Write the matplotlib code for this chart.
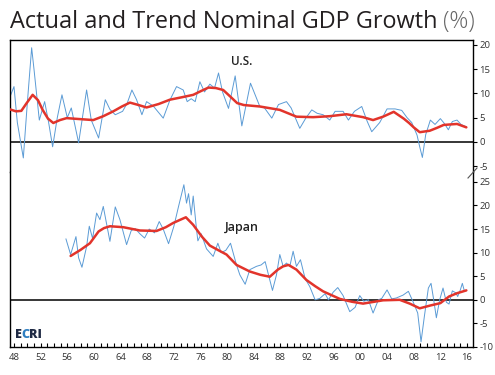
import matplotlib
matplotlib.use("Agg")
import matplotlib.pyplot as plt
from matplotlib.lines import Line2D
from matplotlib.ticker import MultipleLocator, FixedLocator, FuncFormatter

plt.rcParams['font.family'] = ['Open Sans', 'DejaVu Sans']
plt.rcParams['axes.unicode_minus'] = False

# U.S. nominal GDP growth (%)
us_year = [1947.4, 1948.0, 1948.5, 1949.4, 1950.0, 1950.65, 1951.0, 1951.8, 1952.6, 1953.2,
           1953.8, 1954.5, 1955.2, 1956.0, 1956.6, 1957.7, 1958.9, 1959.6, 1960.7, 1961.7,
           1962.4, 1963.2, 1964.3, 1965.0, 1965.7, 1966.4, 1967.2, 1967.9, 1968.9, 1970.4,
           1971.4, 1972.4, 1973.4, 1974.0, 1974.6, 1975.2, 1975.9, 1976.6, 1977.4, 1978.1,
           1978.7, 1979.3, 1980.2, 1981.2, 1982.2, 1983.5, 1984.9, 1985.6, 1986.7, 1987.7,
           1988.9, 1989.6, 1990.9, 1991.8, 1992.7, 1993.5, 1994.4, 1995.4, 1996.2, 1997.4,
           1998.2, 1999.1, 2000.2, 2001.0, 2001.7, 2002.9, 2004.0, 2005.2, 2006.2, 2007.0,
           2007.7, 2008.5, 2008.9, 2009.3, 2009.8, 2010.5, 2011.2, 2012.0, 2012.6, 2013.2,
           2013.8, 2014.5, 2015.1, 2015.9]
us_actual = [9.3, 11.4, 4.0, -3.3, 8.0, 19.4, 15.0, 4.5, 8.3, 4.0,
             -1.0, 5.0, 9.7, 5.0, 7.0, -0.2, 10.7, 4.5, 0.8, 8.7,
             6.7, 5.6, 6.3, 8.0, 10.7, 8.7, 5.6, 8.3, 7.4, 4.9,
             8.6, 11.4, 10.7, 8.3, 8.9, 8.3, 12.4, 10.3, 11.9, 11.1,
             14.2, 10.3, 6.9, 13.6, 3.3, 12.1, 7.3, 7.0, 4.9, 7.7,
             8.3, 7.0, 2.8, 4.9, 6.6, 5.9, 5.6, 4.5, 6.3, 6.3,
             4.5, 6.3, 7.3, 4.3, 2.1, 4.0, 6.8, 6.8, 6.5, 5.0,
             4.0, 1.4, -1.0, -3.2, 1.5, 4.5, 3.6, 4.8, 3.8, 2.5,
             4.2, 4.5, 3.6, 3.1]

us_trend_year = [1947.4, 1948.3, 1949.1, 1949.9, 1950.8, 1951.6, 1952.3, 1953.1, 1953.9, 1954.9,
                 1955.9, 1957.9, 1959.9, 1961.4, 1962.9, 1964.2, 1965.4, 1966.7, 1967.9, 1969.7,
                 1971.4, 1973.2, 1974.9, 1976.1, 1977.2, 1978.3, 1979.4, 1980.5, 1981.5, 1982.5,
                 1984.9, 1987.9, 1990.4, 1992.9, 1995.4, 1997.9, 2000.4, 2001.9, 2003.4, 2005.0,
                 2006.5, 2007.3, 2008.0, 2008.9, 2010.4, 2011.5, 2012.5, 2014.5, 2015.9]
us_trend = [6.7, 6.3, 6.4, 8.0, 9.7, 8.6, 6.6, 4.8, 3.9, 4.5,
            4.9, 4.7, 4.5, 5.3, 6.3, 7.3, 8.1, 7.6, 7.1, 7.8,
            8.7, 9.2, 9.7, 10.5, 11.2, 11.1, 10.7, 9.3, 8.0, 7.6,
            7.3, 6.6, 5.2, 5.1, 5.3, 5.7, 5.1, 4.5, 5.2, 6.2,
            4.8, 3.9, 3.0, 2.0, 2.3, 2.9, 3.5, 3.7, 3.0]

# Japan nominal GDP growth (%)
jp_year = [1955.8, 1956.5, 1957.3, 1957.7, 1958.2, 1958.9, 1959.3, 1959.8, 1960.4, 1960.9,
           1961.4, 1962.4, 1963.2, 1963.9, 1964.9, 1965.6, 1966.2, 1966.9, 1967.6, 1968.3,
           1969.1, 1969.8, 1970.4, 1971.2, 1972.0, 1972.7, 1973.5, 1973.9, 1974.2, 1974.6,
           1974.9, 1975.4, 1975.6, 1976.1, 1976.9, 1977.9, 1978.6, 1979.1, 1979.8, 1980.5,
           1981.4, 1981.9, 1982.7, 1983.4, 1984.4, 1985.1, 1985.7, 1986.2, 1986.8, 1987.4,
           1987.9, 1988.4, 1988.9, 1989.4, 1989.9, 1990.4, 1991.0, 1991.7, 1992.4, 1993.2,
           1993.9, 1994.7, 1995.2, 1995.9, 1996.6, 1997.4, 1998.4, 1999.2, 1999.9, 2000.5,
           2001.2, 2001.9, 2002.7, 2003.2, 2004.0, 2004.7, 2005.4, 2006.4, 2007.2, 2007.9,
           2008.6, 2009.1, 2009.6, 2010.2, 2010.6, 2011.0, 2011.4, 2011.9, 2012.4, 2012.9,
           2013.3, 2013.8, 2014.3, 2014.6, 2015.0, 2015.3, 2015.6]
jp_actual = [12.9, 9.6, 13.4, 8.9, 6.9, 11.3, 15.6, 13.0, 18.4, 17.0,
             19.8, 12.4, 19.7, 17.0, 11.7, 14.7, 15.1, 14.0, 13.1, 15.0,
             14.2, 16.6, 15.0, 11.9, 15.6, 19.8, 24.4, 20.5, 22.5, 18.0,
             22.0, 14.9, 12.5, 14.0, 10.8, 9.2, 12.0, 10.0, 10.5, 12.0,
             7.4, 5.3, 3.3, 6.4, 7.1, 7.4, 8.1, 5.3, 2.0, 5.3,
             9.6, 7.1, 7.8, 7.1, 10.3, 7.1, 8.5, 4.5, 2.8, 0.0,
             0.3, 1.3, 0.0, 1.6, 2.6, 0.9, -2.5, -1.6, 0.9, -0.3,
             0.0, -2.8, 0.0, 0.3, 2.1, 0.2, 0.4, 1.0, 1.8, -0.4,
             -2.8, -8.9, -3.5, 2.5, 3.5, 0.0, -3.8, 0.0, 2.5, -0.5,
             -0.9, 1.9, 1.5, 0.7, 2.1, 3.5, 1.9]

jp_trend_year = [1956.5, 1958.0, 1959.4, 1960.7, 1961.5, 1962.4, 1964.4, 1966.9, 1969.4, 1970.8,
                 1971.9, 1973.0, 1973.8, 1974.9, 1976.2, 1977.4, 1978.7, 1979.9, 1981.4, 1983.4,
                 1985.0, 1986.4, 1987.6, 1988.4, 1989.2, 1990.4, 1991.9, 1993.2, 1994.4, 1996.9,
                 1998.7, 2000.4, 2003.4, 2005.9, 2007.4, 2008.9, 2010.5, 2012.0, 2013.3, 2014.5,
                 2015.9]
jp_trend = [9.3, 10.6, 12.0, 14.5, 15.2, 15.6, 15.4, 14.7, 14.6, 15.4,
            16.3, 17.0, 17.5, 15.9, 13.4, 11.5, 10.5, 9.6, 7.4, 6.0,
            5.3, 4.9, 6.4, 7.1, 7.4, 6.4, 4.2, 2.9, 1.8, 0.2,
            -0.4, -0.8, -0.1, 0.0, -0.8, -1.8, -1.2, -0.7, 0.7, 1.4,
            2.0]

BLUE = '#5b9bd5'
RED = '#e2342b'
TXT = '#333333'

W, H = 495, 375
fig = plt.figure(figsize=(W / 100, H / 100), dpi=100)
ax_us = fig.add_axes([10 / W, 1 - 172 / H, 463 / W, 132 / H])
ax_jp = fig.add_axes([10 / W, 1 - 347 / H, 463 / W, 175 / H])

for ax in (ax_us, ax_jp):
    ax.set_xlim(1947.4, 2016.9)
    ax.axhline(0, color='black', lw=1.1, zorder=1)
    ax.yaxis.tick_right()
    ax.tick_params(axis='y', direction='out', length=3, width=0.8, labelsize=6.8,
                   labelcolor=TXT, pad=1.5)
    for s in ax.spines.values():
        s.set_linewidth(1.0)

ax_us.plot(us_year, us_actual, color=BLUE, lw=0.7, zorder=2)
ax_us.plot(us_trend_year, us_trend, color=RED, lw=1.8, zorder=3,
           solid_joinstyle='round', solid_capstyle='round')
ax_us.set_ylim(-6.2, 21)
ax_us.set_yticks(range(-5, 21, 5))
ax_us.spines['bottom'].set_visible(False)
ax_us.tick_params(axis='x', bottom=False, labelbottom=False)
ax_us.text(0.5, 0.84, 'U.S.', transform=ax_us.transAxes, ha='center', va='center',
           fontsize=8.5, fontweight='semibold', color='#222222')

ax_jp.plot(jp_year, jp_actual, color=BLUE, lw=0.7, zorder=2)
ax_jp.plot(jp_trend_year, jp_trend, color=RED, lw=1.8, zorder=3,
           solid_joinstyle='round', solid_capstyle='round')
ax_jp.set_ylim(-10, 27.1)
ax_jp.set_yticks(range(-10, 26, 5))
ax_jp.spines['top'].set_visible(False)
ax_jp.xaxis.set_major_locator(FixedLocator(range(1948, 2017, 4)))
ax_jp.xaxis.set_minor_locator(MultipleLocator(1))
ax_jp.xaxis.set_major_formatter(FuncFormatter(lambda v, p: f"{int(round(v)) % 100:02d}"))
ax_jp.tick_params(axis='x', which='both', direction='in', length=3, width=0.8,
                  labelsize=6.8, labelcolor=TXT, pad=4)
ax_jp.text(0.5, 0.685, 'Japan', transform=ax_jp.transAxes, ha='center', va='center',
           fontsize=9, fontweight='semibold', color='#222222')

# break mark on the right axis
fig.add_artist(Line2D([468 / W, 477 / W], [1 - 178 / H, 1 - 168 / H], color='#555555', lw=0.8))

# title
t = fig.text(10 / W, 1 - 22 / H, 'Actual and Trend Nominal GDP Growth', fontsize=16.9,
             color='#231f20', va='center', ha='left', fontweight='medium')
fig.canvas.draw()
r = fig.canvas.get_renderer()
bb = t.get_window_extent(r)
fig.text((bb.x1 + 6) / W, 1 - 22 / H, '(%)', fontsize=16.9, color='#666666',
         fontweight='light', va='center', ha='left')

# ECRI logo, pieces placed one after another
x = 15
for piece, col in [('E', '#1f2a44'), ('C', '#2f7fc1'), ('RI', '#1f2a44')]:
    tt = fig.text(x / W, 1 - 335 / H, piece, fontsize=9, fontweight='heavy', color=col,
                  va='center', ha='left')
    x = tt.get_window_extent(r).x1 - 0.5

fig.savefig('out.png', dpi=100)
